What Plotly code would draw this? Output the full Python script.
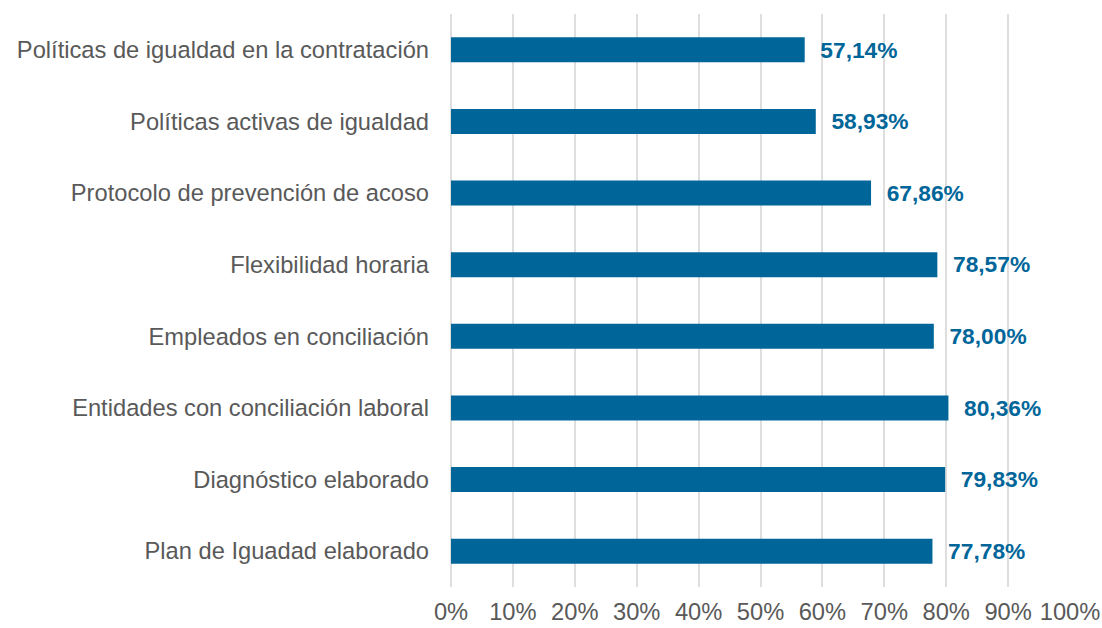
import plotly.graph_objects as go

categorias = [
    "Políticas de igualdad en la contratación",
    "Políticas activas de igualdad",
    "Protocolo de prevención de acoso",
    "Flexibilidad horaria",
    "Empleados en conciliación",
    "Entidades con conciliación laboral",
    "Diagnóstico elaborado",
    "Plan de Iguadad elaborado",
]
valores = [57.14, 58.93, 67.86, 78.57, 78.00, 80.36, 79.83, 77.78]
ticks = [0, 10, 20, 30, 40, 50, 60, 70, 80, 90, 100]
tick_labels = ["0%", "10%", "20%", "30%", "40%", "50%", "60%", "70%", "80%", "90%", "100%"]

azul = "#00669a"
fuente = "Liberation Sans, Arial"

fig = go.Figure()
fig.add_trace(go.Bar(
    x=valores, y=categorias, orientation="h",
    marker=dict(color=azul, line=dict(width=0)),
    width=0.35,
    texttemplate="  %{x:.2f}%", textposition="outside",
    textfont=dict(family=fuente, size=23.6, color=azul, weight="bold"),
    cliponaxis=False,
))

fig.update_layout(
    width=1102, height=628,
    margin=dict(l=451, r=32, t=14, b=41),
    plot_bgcolor="white", paper_bgcolor="white",
    separators=",.",
    showlegend=False,
    font=dict(family=fuente, size=23.7, color="#595959"),
)
fig.update_xaxes(
    range=[0, 100], tickmode="array", tickvals=ticks, ticktext=tick_labels,
    showgrid=True, gridcolor="#dedede", gridwidth=1.5,
    zeroline=True, zerolinecolor="#dedede", zerolinewidth=1.5,
    showline=False, ticklabelstandoff=8, automargin=False,
)
fig.update_yaxes(
    autorange="reversed", showgrid=False, showline=False,
    ticklabelstandoff=21, automargin=False,
)

# quitar el margen por defecto del <body> para que el gráfico ocupe la ventana
fig.write_html("out.html", config={"displayModeBar": False},
               post_script="document.body.style.margin='0';")
